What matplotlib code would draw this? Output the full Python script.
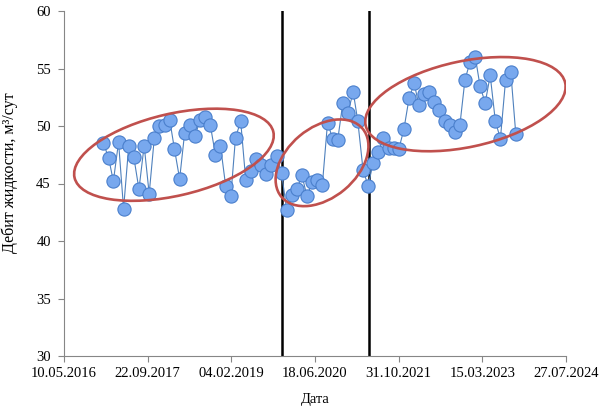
import matplotlib
matplotlib.use("Agg")
import matplotlib.pyplot as plt
import matplotlib.dates as mdates
import matplotlib.transforms as mtransforms
from matplotlib.patches import Ellipse
import numpy as np
import pandas as pd

plt.rcParams['font.family'] = ['Liberation Serif', 'DejaVu Serif']

# monthly measurements, Jan 2017 .. Oct 2023
dates = pd.date_range("2017-01-01", "2023-10-01", freq="MS")
rate = [48.5, 47.2, 45.2, 48.6, 42.8, 48.3, 47.3, 44.5, 48.3, 44.1,
        49.0, 50.0, 50.1, 50.5, 48.0, 45.4, 49.4, 50.1, 49.1, 50.5,
        50.8, 50.1, 47.5, 48.3, 44.8, 43.9, 49.0, 50.4, 45.3, 46.1,
        47.1, 46.6, 45.8, 46.6, 47.4, 45.9, 42.7, 44.0, 44.5, 45.7,
        43.9, 45.1, 45.3, 44.9, 50.3, 48.9, 48.8, 52.0, 51.1, 53.0,
        50.4, 46.2, 44.8, 46.8, 47.7, 49.0, 48.1, 48.1, 48.0, 49.7,
        52.4, 53.7, 51.8, 52.8, 53.0, 52.1, 51.4, 50.4, 50.1, 49.5,
        50.1, 54.0, 55.6, 56.0, 53.5, 52.0, 54.4, 50.4, 48.9, 54.0,
        54.7, 49.3]

# period boundaries
boundaries = ["2019-12-04", "2021-05-07"]

# highlighted groups: center date, center value, width/height (px), angle
groups_center = [("2018-02-26", 47.5), ("2020-07-30", 46.8), ("2022-12-04", 51.9)]
groups_size = [(204, 82, 13), (106, 70, 40), (204, 86, 12)]

x_start = pd.Timestamp("2016-05-10")
tick_dates = [x_start + pd.Timedelta(days=500 * i) for i in range(7)]

fig = plt.figure(figsize=(6.04, 4.12), dpi=100)
ax = fig.add_axes([64 / 604, 1 - 356 / 412, (566 - 64) / 604, (356 - 11) / 412])

ax.plot(dates, rate, color='#4f81bd', lw=0.8, marker='o', ms=9.5,
        mfc='#78a8ee', mec='#4a7fcc', mew=0.8, zorder=3)

for b in boundaries:
    ax.axvline(pd.Timestamp(b), color='black', lw=1.8, zorder=2)

ax.set_xlim(mdates.date2num(tick_dates[0]), mdates.date2num(tick_dates[-1]))
ax.set_ylim(30, 60)
ax.set_xticks([mdates.date2num(d) for d in tick_dates])
ax.xaxis.set_major_formatter(mdates.DateFormatter('%d.%m.%Y'))
ax.set_yticks(np.arange(30, 61, 5))

for (cd, cv), (w, h, a) in zip(groups_center, groups_size):
    trans = fig.dpi_scale_trans + mtransforms.ScaledTranslation(
        mdates.date2num(pd.Timestamp(cd)), cv, ax.transData)
    ax.add_patch(Ellipse((0, 0), w / 100, h / 100, angle=a, transform=trans,
                         fill=False, ec='#c0504d', lw=1.9, zorder=4))

for s in ['top', 'right']:
    ax.spines[s].set_visible(False)
for s in ['left', 'bottom']:
    ax.spines[s].set_color('#868686')
    ax.spines[s].set_linewidth(0.8)
ax.tick_params(colors='#868686', length=4.5, width=0.8, labelsize=10.5,
               labelcolor='black')
ax.tick_params(axis='y', pad=5)

ax.set_xlabel('Дата', fontsize=10.5, labelpad=9)
ax.set_ylabel('Дебит жидкости, м³/сут', fontsize=11.5)
ax.yaxis.set_label_coords(-0.092, 0.532)

fig.savefig('out.png', dpi=100)
